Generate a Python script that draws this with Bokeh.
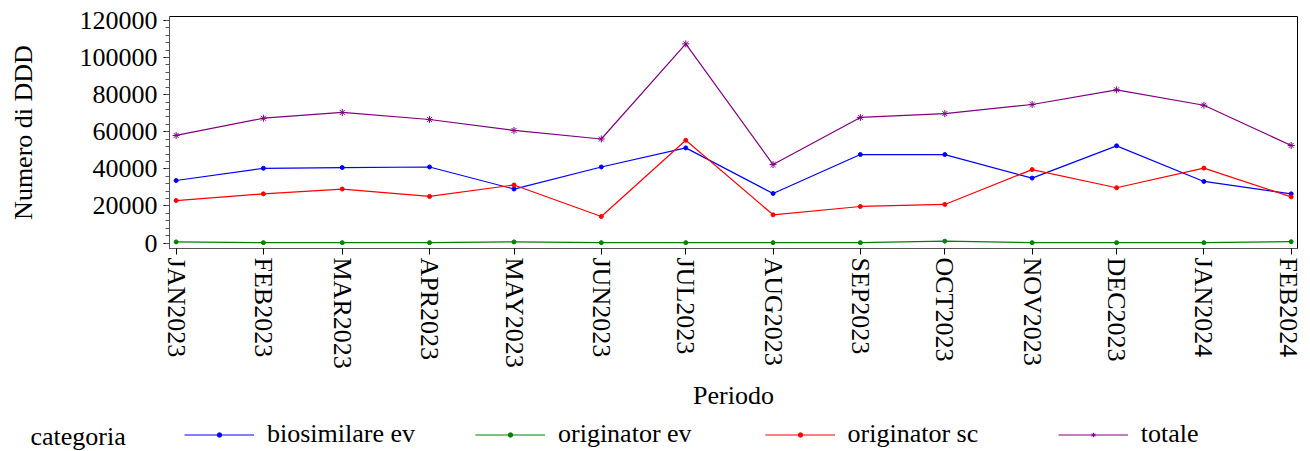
import pandas as pd
from bokeh.plotting import figure
from bokeh.layouts import column
from bokeh.models import (Range1d, FixedTicker, SingleIntervalTicker, BasicTickFormatter,
                          Legend, LegendItem, Label)
from bokeh.embed import file_html
from bokeh.resources import INLINE

# ---- data ----
periods = ["JAN2023", "FEB2023", "MAR2023", "APR2023", "MAY2023", "JUN2023", "JUL2023",
           "AUG2023", "SEP2023", "OCT2023", "NOV2023", "DEC2023", "JAN2024", "FEB2024"]
biosimilare_ev = [33700, 40300, 40700, 41000, 29100, 41000, 51300,
                  26700, 47700, 47700, 35000, 52400, 33200, 26500]
originator_ev = [600, 200, 200, 200, 600, 200, 200,
                 200, 200, 1000, 200, 200, 200, 700]
originator_sc = [22900, 26500, 29100, 25100, 31300, 14300, 55400,
                 15200, 19700, 20800, 39600, 29800, 40400, 24900]
totale = [58000, 67300, 70400, 66600, 60700, 56100, 107400,
          42300, 67700, 69800, 74700, 82600, 74300, 52600]
series_names = ["biosimilare ev", "originator ev", "originator sc", "totale"]
legend_title = "categoria"

dates = pd.to_datetime(periods, format="%b%Y")
ms = [int(d.timestamp() * 1000) for d in dates]
DAY = 86400000

FONT = "Liberation Serif"
FS = "26px"
NB = "\u00a0"

p = figure(width=1302, height=420, x_axis_type="datetime",
           output_backend="svg", toolbar_location=None,
           x_range=Range1d(ms[0] - 2.35 * DAY, ms[-1] + 2.25 * DAY),
           y_range=Range1d(-2966, 122157),
           min_border_left=169, min_border_right=5,
           min_border_top=16, min_border_bottom=172)
p.frame_align = False

p.xgrid.grid_line_color = None
p.ygrid.grid_line_color = None
p.outline_line_color = "black"
p.outline_line_alpha = 1
p.outline_line_width = 1

# x axis
p.xaxis.ticker = FixedTicker(ticks=ms)
p.xaxis.major_label_overrides = {m: lab for m, lab in zip(ms, periods)}
p.xaxis.major_label_orientation = "vertical"
p.xaxis.axis_label = "Periodo"
# y axis
p.yaxis.ticker = SingleIntervalTicker(interval=20000, num_minor_ticks=5)
p.yaxis.formatter = BasicTickFormatter(use_scientific=False)
p.yaxis.axis_label = "Numero di DDD"

for ax in (p.xaxis, p.yaxis):
    ax.major_label_text_font = FONT
    ax.major_label_text_font_size = FS
    ax.major_label_text_color = "black"
    ax.axis_label_text_font = FONT
    ax.axis_label_text_font_size = FS
    ax.axis_label_text_font_style = "normal"
    ax.axis_label_text_color = "black"
    ax.axis_line_color = "#555555"
    ax.major_tick_line_color = "black"
    ax.minor_tick_line_color = "#555555"
    ax.major_tick_in = 0
    ax.major_tick_out = 6
    ax.minor_tick_in = 0
    ax.minor_tick_out = 4

p.xaxis.major_label_standoff = 3
p.yaxis.major_label_standoff = 6
p.xaxis.axis_label_standoff = 9
p.yaxis.axis_label_standoff = 39

colors = ["#0000FF", "#008000", "#FF0000", "#800080"]
markers = ["circle", "circle", "circle", "asterisk"]
sizes = [4, 4, 4, 7]
pads = [0, 2, 3, 0]
values = [biosimilare_ev, originator_ev, originator_sc, totale]

# legend strip below the chart (its own small figure, nothing drawn in its frame)
pl = figure(width=1302, height=31, output_backend="svg", toolbar_location=None,
            x_range=Range1d(0, 1), y_range=Range1d(0, 1),
            x_axis_location=None, y_axis_location=None,
            min_border_left=0, min_border_right=0, min_border_top=0, min_border_bottom=0)
pl.frame_align = False
pl.outline_line_color = None
pl.xgrid.grid_line_color = None
pl.ygrid.grid_line_color = None

items = []
for name, vals, col, mk, sz, pad in zip(series_names, values, colors, markers, sizes, pads):
    p.line(dates, vals, line_color=col, line_width=1.2)
    p.scatter(dates, vals, marker=mk, size=sz, line_color=col, fill_color=col, line_width=1)
    # same series in the legend strip (falls outside its ranges, so only the key shows)
    l1 = pl.line(dates, vals, line_color=col, line_width=1.2)
    l2 = pl.scatter(dates, vals, marker=mk, size=sz, line_color=col, fill_color=col,
                    line_width=1)
    items.append(LegendItem(label=name + NB * pad, renderers=[l1, l2]))

lg = Legend(items=items, location=(184, 2), orientation="horizontal",
            glyph_width=70, glyph_height=11, label_height=26, label_standoff=13,
            spacing=60, padding=0, margin=0, border_line_color=None,
            background_fill_alpha=0,
            label_text_font=FONT, label_text_font_size=FS, label_text_color="black")
pl.add_layout(lg)
pl.add_layout(Label(x=30, y=15, x_units="screen", y_units="screen", text=legend_title,
                    text_font=FONT, text_font_size=FS, text_baseline="middle",
                    text_align="left", text_color="black"))

open("out.html", "w").write(file_html(column(p, pl, spacing=0), INLINE))
